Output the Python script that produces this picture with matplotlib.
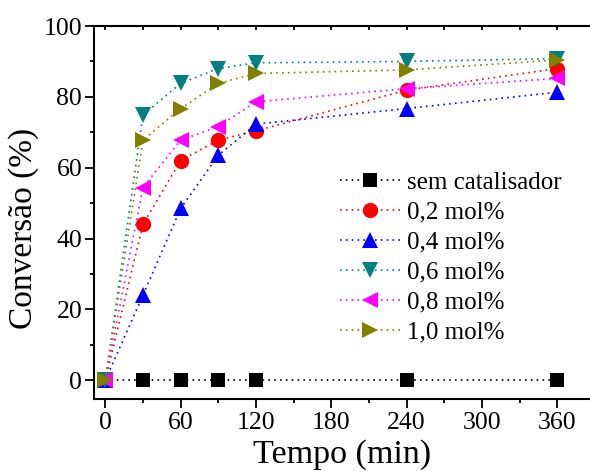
import matplotlib
matplotlib.use("Agg")
import matplotlib.pyplot as plt
from matplotlib.ticker import MultipleLocator

plt.rcParams['font.family'] = ['Liberation Serif', 'DejaVu Serif']

tempo = [0, 30, 60, 90, 120, 240, 360]
sem_catalisador = [0, 0, 0, 0, 0, 0, 0]
mol_02 = [0, 44, 62, 67.8, 70.4, 81.9, 88.0]
mol_04 = [0, 24, 48.5, 63.5, 72.3, 76.7, 81.3]
mol_06 = [0, 74.9, 83.8, 88.0, 89.6, 90.0, 90.8]
mol_08 = [0, 54.4, 67.8, 71.6, 78.6, 82.3, 85.2]
mol_10 = [0, 67.8, 76.7, 83.8, 86.6, 87.6, 90.4]

series = [
    ("sem catalisador", sem_catalisador, "#000000", "s", 9.5),
    ("0,2 mol%", mol_02, "#FF0000", "o", 11),
    ("0,4 mol%", mol_04, "#0000FF", "^", 12),
    ("0,6 mol%", mol_06, "#008080", "v", 12),
    ("0,8 mol%", mol_08, "#FF00FF", "<", 12),
    ("1,0 mol%", mol_10, "#808000", ">", 12),
]

fig = plt.figure(figsize=(5.9, 4.73), dpi=100)
ax = fig.add_axes([94 / 590, 1 - 399 / 473, 1 - 94 / 590, (399 - 26) / 473])

for label, vals, color, marker, ms in series:
    ax.plot(tempo, vals, linestyle=(0, (1, 2.5)), linewidth=1.2, color=color,
            marker=marker, markersize=ms, markeredgewidth=0, label=label,
            clip_on=False)

ax.set_xlim(-9, 386)
ax.set_ylim(-5.3, 100)
ax.xaxis.set_major_locator(MultipleLocator(60))
ax.xaxis.set_minor_locator(MultipleLocator(30))
ax.yaxis.set_major_locator(MultipleLocator(20))
ax.yaxis.set_minor_locator(MultipleLocator(10))

ax.tick_params(axis='both', which='major', direction='out', length=6.5, width=1.3,
               labelsize=18.5, top=False, right=False)
ax.tick_params(axis='both', which='minor', direction='out', length=3, width=1.3,
               top=False, right=False)
ax.tick_params(axis='x', which='both', top=True, labeltop=False)
ax.tick_params(axis='x', which='major', pad=3)
ax.tick_params(axis='y', which='major', pad=2)

# short inward ticks along the top edge
for t in ax.xaxis.get_major_ticks() + ax.xaxis.get_minor_ticks():
    t.tick2line.set_markersize(3)
    t.tick2line.set_marker(3)

for s in ['left', 'bottom', 'top']:
    ax.spines[s].set_linewidth(1.5)
ax.spines['right'].set_visible(False)

ax.set_xlabel("Tempo (min)", fontsize=24.5, va='baseline')
ax.xaxis.set_label_coords(0.5, -0.172)
ax.set_ylabel("Conversão (%)", fontsize=24, ha='center', va='center')
ax.yaxis.set_label_coords(-0.142, 0.456)

ax.legend(loc='upper left', bbox_to_anchor=(0.475, 0.637), frameon=False,
          fontsize=18, handlelength=2.4, handletextpad=0.3, labelspacing=0.3,
          borderaxespad=0)

fig.savefig("out.png", dpi=100)
